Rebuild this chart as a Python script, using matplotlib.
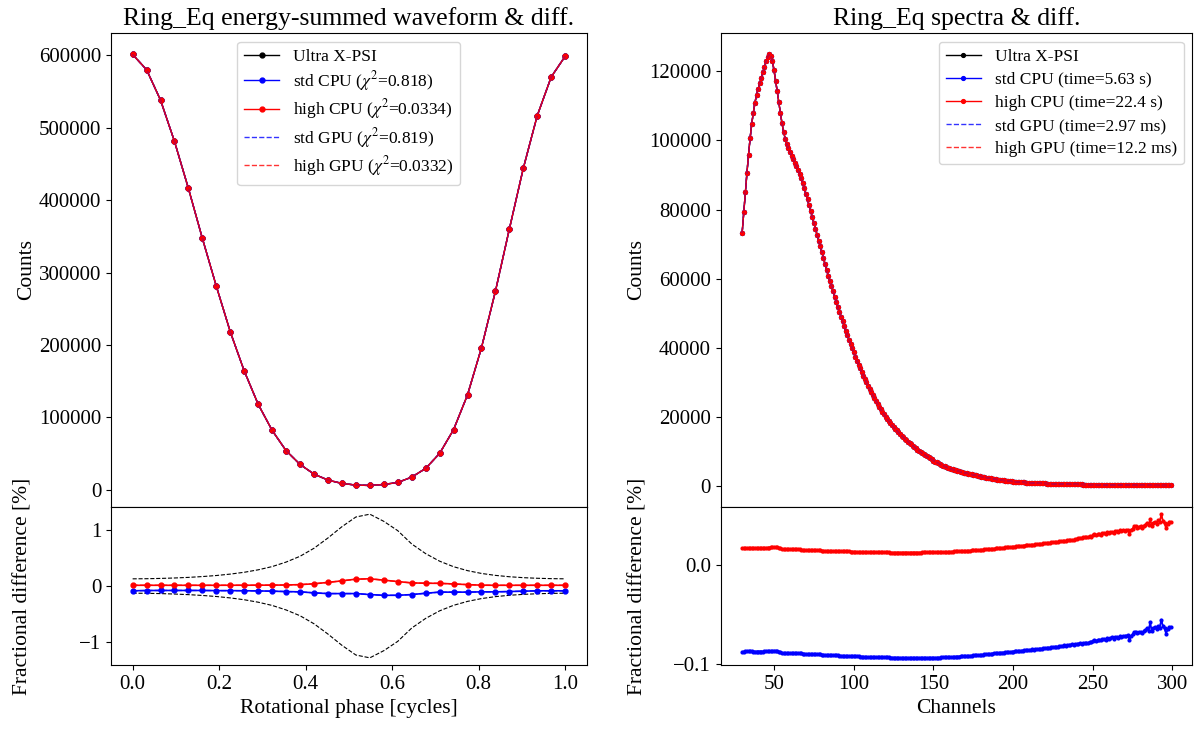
import numpy as np
import matplotlib
matplotlib.use('Agg')
import matplotlib.pyplot as plt

plt.rcParams['font.family'] = 'serif'
plt.rcParams['font.serif'] = ['Liberation Serif', 'DejaVu Serif']
plt.rcParams['mathtext.fontset'] = 'stix'

# ---- energy-summed waveform (32 phase bins) ----
n_phase = 32
phase = np.arange(n_phase) / (n_phase - 1)
wave_counts = [601000, 580000, 538000, 481000, 416000, 347000, 281000, 218000,
               164000, 118000, 82000, 54000, 35000, 21700, 13400, 8800,
               6500, 6000, 7400, 10100, 17500, 29500, 50200, 83000,
               131000, 196000, 274000, 360000, 444000, 516600, 570000, 598600]
wave_diff_std = [-0.086, -0.081, -0.080, -0.080, -0.080, -0.080, -0.083, -0.083,
                 -0.085, -0.088, -0.093, -0.100, -0.105, -0.123, -0.136, -0.136,
                 -0.136, -0.154, -0.167, -0.167, -0.154, -0.130, -0.110, -0.110,
                 -0.110, -0.105, -0.105, -0.099, -0.093, -0.086, -0.086, -0.086]
wave_diff_high = [0.013, 0.013, 0.013, 0.013, 0.013, 0.013, 0.013, 0.014,
                  0.014, 0.015, 0.016, 0.018, 0.025, 0.040, 0.065, 0.093,
                  0.123, 0.130, 0.105, 0.080, 0.056, 0.050, 0.048, 0.037,
                  0.025, 0.015, 0.013, 0.013, 0.013, 0.013, 0.013, 0.013]
wave_labels = ['Ultra X-PSI', r'std CPU ($\chi^2$=0.818)', r'high CPU ($\chi^2$=0.0334)',
               r'std GPU ($\chi^2$=0.819)', r'high GPU ($\chi^2$=0.0332)']

# ---- spectra (channels 30..299) ----
spec_counts = [
    73300, 79200, 85000, 90600, 95900, 100700, 104800, 108000, 110900, 113100,
    114900, 116500, 118100, 119800, 121400, 122900, 124200, 124900, 124600, 123000,
    120300, 117300, 114200, 111000, 107900, 105000, 102500, 100500, 99000, 97700,
    96600, 95600, 94600, 93600, 92600, 91500, 90300, 89000, 87600, 86100,
    84500, 82900, 81200, 79500, 77800, 76100, 74400, 72700, 71000, 69300,
    67600, 65900, 64200, 62500, 60800, 59300, 57800, 56300, 54800, 53300,
    51800, 50400, 49000, 47600, 46200, 44900, 43600, 42300, 41000, 39800,
    38600, 37400, 36200, 35100, 34000, 32900, 31900, 30900, 29900, 28900,
    28000, 27100, 26200, 25300, 24500, 23700, 22900, 22100, 21400, 20700,
    20000, 19300, 18700, 18100, 17500, 17000, 16500, 16000, 15500, 15000,
    14500, 14100, 13600, 13200, 12800, 12400, 12000, 11600, 11200, 10800,
    10400, 10100, 9700, 9400, 9100, 8800, 8500, 8200, 7900, 7600,
    7300, 7000, 6800, 6500, 6300, 6000, 5800, 5600, 5400, 5200,
    5000, 4850, 4700, 4560, 4430, 4300, 4180, 4060, 3940, 3820,
    3700, 3590, 3480, 3370, 3260, 3160, 3060, 2960, 2860, 2760,
    2660, 2560, 2460, 2370, 2280, 2190, 2100, 2010, 1930, 1850,
    1780, 1710, 1640, 1580, 1520, 1460, 1400, 1350, 1300, 1250,
    1210, 1170, 1130, 1090, 1050, 1010, 980, 950, 920, 890,
    860, 830, 800, 780, 760, 740, 720, 700, 680, 660,
    640, 620, 600, 585, 570, 555, 540, 525, 510, 500,
    490, 480, 470, 460, 450, 440, 430, 420, 410, 400,
    390, 380, 370, 360, 350, 340, 330, 320, 310, 300,
    292, 284, 276, 268, 260, 252, 245, 238, 231, 224,
    218, 212, 206, 200, 195, 190, 185, 180, 175, 170,
    165, 160, 156, 152, 148, 144, 140, 136, 132, 128,
    124, 120, 117, 114, 111, 108, 105, 102, 99, 96,
    93, 90, 88, 86, 84, 82, 80, 78, 76, 74]
spec_diff_high = [
    0.0172, 0.0174, 0.0175, 0.0175, 0.0175, 0.0175, 0.0175, 0.0175, 0.0175, 0.0175,
    0.0175, 0.0175, 0.0175, 0.0175, 0.0176, 0.0176, 0.0177, 0.0178, 0.0180, 0.0182,
    0.0184, 0.0184, 0.0181, 0.0176, 0.0170, 0.0165, 0.0161, 0.0159, 0.0159, 0.0160,
    0.0161, 0.0161, 0.0161, 0.0161, 0.0161, 0.0160, 0.0159, 0.0157, 0.0155, 0.0154,
    0.0153, 0.0152, 0.0151, 0.0151, 0.0150, 0.0150, 0.0149, 0.0149, 0.0148, 0.0148,
    0.0147, 0.0146, 0.0146, 0.0145, 0.0145, 0.0144, 0.0144, 0.0143, 0.0143, 0.0142,
    0.0141, 0.0141, 0.0140, 0.0140, 0.0139, 0.0139, 0.0138, 0.0138, 0.0137, 0.0137,
    0.0136, 0.0136, 0.0135, 0.0135, 0.0134, 0.0134, 0.0133, 0.0133, 0.0132, 0.0132,
    0.0131, 0.0131, 0.0131, 0.0130, 0.0130, 0.0130, 0.0129, 0.0129, 0.0129, 0.0128,
    0.0128, 0.0128, 0.0128, 0.0127, 0.0127, 0.0127, 0.0127, 0.0127, 0.0127, 0.0126,
    0.0126, 0.0126, 0.0126, 0.0126, 0.0126, 0.0126, 0.0126, 0.0127, 0.0127, 0.0127,
    0.0127, 0.0127, 0.0127, 0.0128, 0.0128, 0.0128, 0.0128, 0.0129, 0.0129, 0.0129,
    0.0130, 0.0130, 0.0131, 0.0131, 0.0132, 0.0132, 0.0133, 0.0133, 0.0134, 0.0135,
    0.0135, 0.0136, 0.0137, 0.0138, 0.0138, 0.0139, 0.0140, 0.0141, 0.0142, 0.0143,
    0.0144, 0.0145, 0.0146, 0.0147, 0.0148, 0.0149, 0.0150, 0.0152, 0.0153, 0.0154,
    0.0156, 0.0157, 0.0158, 0.0160, 0.0161, 0.0163, 0.0164, 0.0166, 0.0167, 0.0169,
    0.0170, 0.0172, 0.0173, 0.0176, 0.0176, 0.0179, 0.0179, 0.0182, 0.0181, 0.0185,
    0.0186, 0.0188, 0.0189, 0.0192, 0.0191, 0.0195, 0.0196, 0.0198, 0.0200, 0.0199,
    0.0204, 0.0204, 0.0207, 0.0206, 0.0211, 0.0212, 0.0213, 0.0216, 0.0215, 0.0220,
    0.0221, 0.0223, 0.0226, 0.0224, 0.0230, 0.0229, 0.0234, 0.0236, 0.0233, 0.0240,
    0.0241, 0.0243, 0.0248, 0.0244, 0.0251, 0.0252, 0.0249, 0.0257, 0.0255, 0.0261,
    0.0268, 0.0275, 0.0278, 0.0272, 0.0282, 0.0280, 0.0286, 0.0283, 0.0291, 0.0289,
    0.0304, 0.0310, 0.0303, 0.0313, 0.0316, 0.0309, 0.0320, 0.0324, 0.0317, 0.0330,
    0.0322, 0.0333, 0.0338, 0.0326, 0.0340, 0.0345, 0.0336, 0.0350, 0.0347, 0.0355,
    0.0348, 0.0353, 0.0358, 0.0314, 0.0355, 0.0370, 0.0392, 0.0398, 0.0380, 0.0390,
    0.0392, 0.0380, 0.0398, 0.0410, 0.0430, 0.0402, 0.0462, 0.0395, 0.0428, 0.0440,
    0.0418, 0.0452, 0.0435, 0.0515, 0.0448, 0.0425, 0.0372, 0.0420, 0.0440, 0.0438]
spec_diff_std = [
    -0.0876, -0.0874, -0.0873, -0.0873, -0.0873, -0.0873, -0.0873, -0.0874, -0.0874, -0.0874,
    -0.0874, -0.0874, -0.0874, -0.0874, -0.0873, -0.0873, -0.0872, -0.0871, -0.0869, -0.0867,
    -0.0865, -0.0865, -0.0868, -0.0874, -0.0880, -0.0885, -0.0889, -0.0891, -0.0891, -0.0890,
    -0.0889, -0.0889, -0.0889, -0.0889, -0.0889, -0.0890, -0.0891, -0.0893, -0.0895, -0.0896,
    -0.0897, -0.0898, -0.0899, -0.0900, -0.0901, -0.0901, -0.0902, -0.0903, -0.0904, -0.0904,
    -0.0905, -0.0906, -0.0907, -0.0908, -0.0908, -0.0909, -0.0910, -0.0911, -0.0912, -0.0913,
    -0.0914, -0.0915, -0.0916, -0.0916, -0.0917, -0.0918, -0.0919, -0.0919, -0.0920, -0.0921,
    -0.0922, -0.0922, -0.0923, -0.0924, -0.0925, -0.0925, -0.0926, -0.0927, -0.0927, -0.0928,
    -0.0929, -0.0929, -0.0930, -0.0930, -0.0931, -0.0931, -0.0932, -0.0932, -0.0933, -0.0933,
    -0.0934, -0.0934, -0.0934, -0.0935, -0.0935, -0.0935, -0.0936, -0.0936, -0.0936, -0.0937,
    -0.0937, -0.0937, -0.0937, -0.0937, -0.0938, -0.0938, -0.0938, -0.0938, -0.0938, -0.0938,
    -0.0938, -0.0938, -0.0938, -0.0938, -0.0938, -0.0938, -0.0938, -0.0937, -0.0937, -0.0937,
    -0.0937, -0.0936, -0.0936, -0.0935, -0.0935, -0.0934, -0.0934, -0.0933, -0.0932, -0.0932,
    -0.0931, -0.0930, -0.0929, -0.0928, -0.0927, -0.0926, -0.0925, -0.0924, -0.0923, -0.0922,
    -0.0921, -0.0920, -0.0918, -0.0917, -0.0916, -0.0914, -0.0913, -0.0911, -0.0910, -0.0908,
    -0.0907, -0.0905, -0.0904, -0.0902, -0.0900, -0.0899, -0.0897, -0.0895, -0.0893, -0.0892,
    -0.0890, -0.0888, -0.0887, -0.0884, -0.0884, -0.0881, -0.0881, -0.0878, -0.0879, -0.0875,
    -0.0874, -0.0872, -0.0871, -0.0868, -0.0869, -0.0865, -0.0864, -0.0862, -0.0860, -0.0861,
    -0.0856, -0.0856, -0.0853, -0.0854, -0.0849, -0.0848, -0.0847, -0.0844, -0.0845, -0.0840,
    -0.0839, -0.0837, -0.0834, -0.0836, -0.0830, -0.0831, -0.0826, -0.0824, -0.0827, -0.0820,
    -0.0819, -0.0817, -0.0812, -0.0816, -0.0809, -0.0808, -0.0811, -0.0803, -0.0805, -0.0799,
    -0.0802, -0.0795, -0.0792, -0.0798, -0.0788, -0.0790, -0.0784, -0.0787, -0.0779, -0.0781,
    -0.0766, -0.0760, -0.0767, -0.0757, -0.0754, -0.0761, -0.0750, -0.0746, -0.0753, -0.0740,
    -0.0748, -0.0737, -0.0732, -0.0744, -0.0730, -0.0725, -0.0734, -0.0720, -0.0723, -0.0715,
    -0.0722, -0.0717, -0.0712, -0.0756, -0.0715, -0.0700, -0.0678, -0.0672, -0.0690, -0.0680,
    -0.0676, -0.0688, -0.0670, -0.0658, -0.0638, -0.0666, -0.0575, -0.0671, -0.0640, -0.0628,
    -0.0650, -0.0616, -0.0633, -0.0551, -0.0618, -0.0641, -0.0694, -0.0646, -0.0626, -0.0628]
channels = np.arange(30, 30 + len(spec_counts))
spec_labels = ['Ultra X-PSI', 'std CPU (time=5.63 s)', 'high CPU (time=22.4 s)',
               'std GPU (time=2.97 ms)', 'high GPU (time=12.2 ms)']

fig = plt.figure(figsize=(12, 7.32), dpi=100)
gs_l = fig.add_gridspec(2, 1, height_ratios=[3, 1], left=0.0925, right=0.489,
                        top=0.955, bottom=0.0915, hspace=0)
gs_r = fig.add_gridspec(2, 1, height_ratios=[3, 1], left=0.6006, right=0.9936,
                        top=0.955, bottom=0.0915, hspace=0)

FS = 15.5


def draw_pair(gs, x, counts, d_std, d_high, labels, title, xlabel, legloc,
              show_err, ms_top, ms_bot, frac_x, legspace):
    ax = fig.add_subplot(gs[0])
    axd = fig.add_subplot(gs[1], sharex=ax)
    ax.plot(x, counts, '.-', color='k', lw=1, ms=ms_top, label=labels[0])
    ax.plot(x, counts, '.-', color='b', lw=1, ms=ms_top, label=labels[1])
    ax.plot(x, counts, '.-', color='r', lw=1, ms=ms_top, label=labels[2])
    ax.plot(x, counts, '--', color='b', lw=1, alpha=0.8, label=labels[3])
    ax.plot(x, counts, '--', color='r', lw=1, alpha=0.8, label=labels[4])
    ax.set_ylabel('Counts', fontsize=FS, labelpad=2)
    ax.set_title(title, fontsize=18.5)
    ax.tick_params(labelsize=15)
    ax.tick_params(axis='x', labelbottom=False)
    ax.legend(loc=legloc, fontsize=12.5, labelspacing=legspace)

    if show_err:
        err = 100 / np.sqrt(np.array(counts))
        axd.plot(x, err, '--', color='k', lw=0.8)
        axd.plot(x, -err, '--', color='k', lw=0.8)
    axd.plot(x, d_std, '.-', color='b', lw=1.2, ms=ms_bot)
    axd.plot(x, d_high, '.-', color='r', lw=1.2, ms=ms_bot)
    axd.plot(x, d_std, '--', color='b', lw=1, alpha=0.8)
    axd.plot(x, d_high, '--', color='r', lw=1, alpha=0.8)
    axd.set_xlabel(xlabel, fontsize=FS)
    axd.set_ylabel('Fractional difference [%]', fontsize=FS)
    axd.tick_params(labelsize=15)
    axd.yaxis.set_label_coords(frac_x, 0.5)
    return ax, axd


ax1, ax1d = draw_pair(gs_l, phase, wave_counts, wave_diff_std, wave_diff_high, wave_labels,
                      'Ring_Eq energy-summed waveform & diff.', 'Rotational phase [cycles]',
                      'upper center', True, 7, 7, -0.165, 0.25)
ax1d.set_yticks([-1, 0, 1])

ax2, ax2d = draw_pair(gs_r, channels, spec_counts, spec_diff_std, spec_diff_high, spec_labels,
                      'Ring_Eq spectra & diff.', 'Channels', 'upper right', False, 5.5, 4,
                      -0.155, 0.4)
ax2d.set_yticks([-0.1, 0.0])

plt.savefig('out.png', dpi=100)
